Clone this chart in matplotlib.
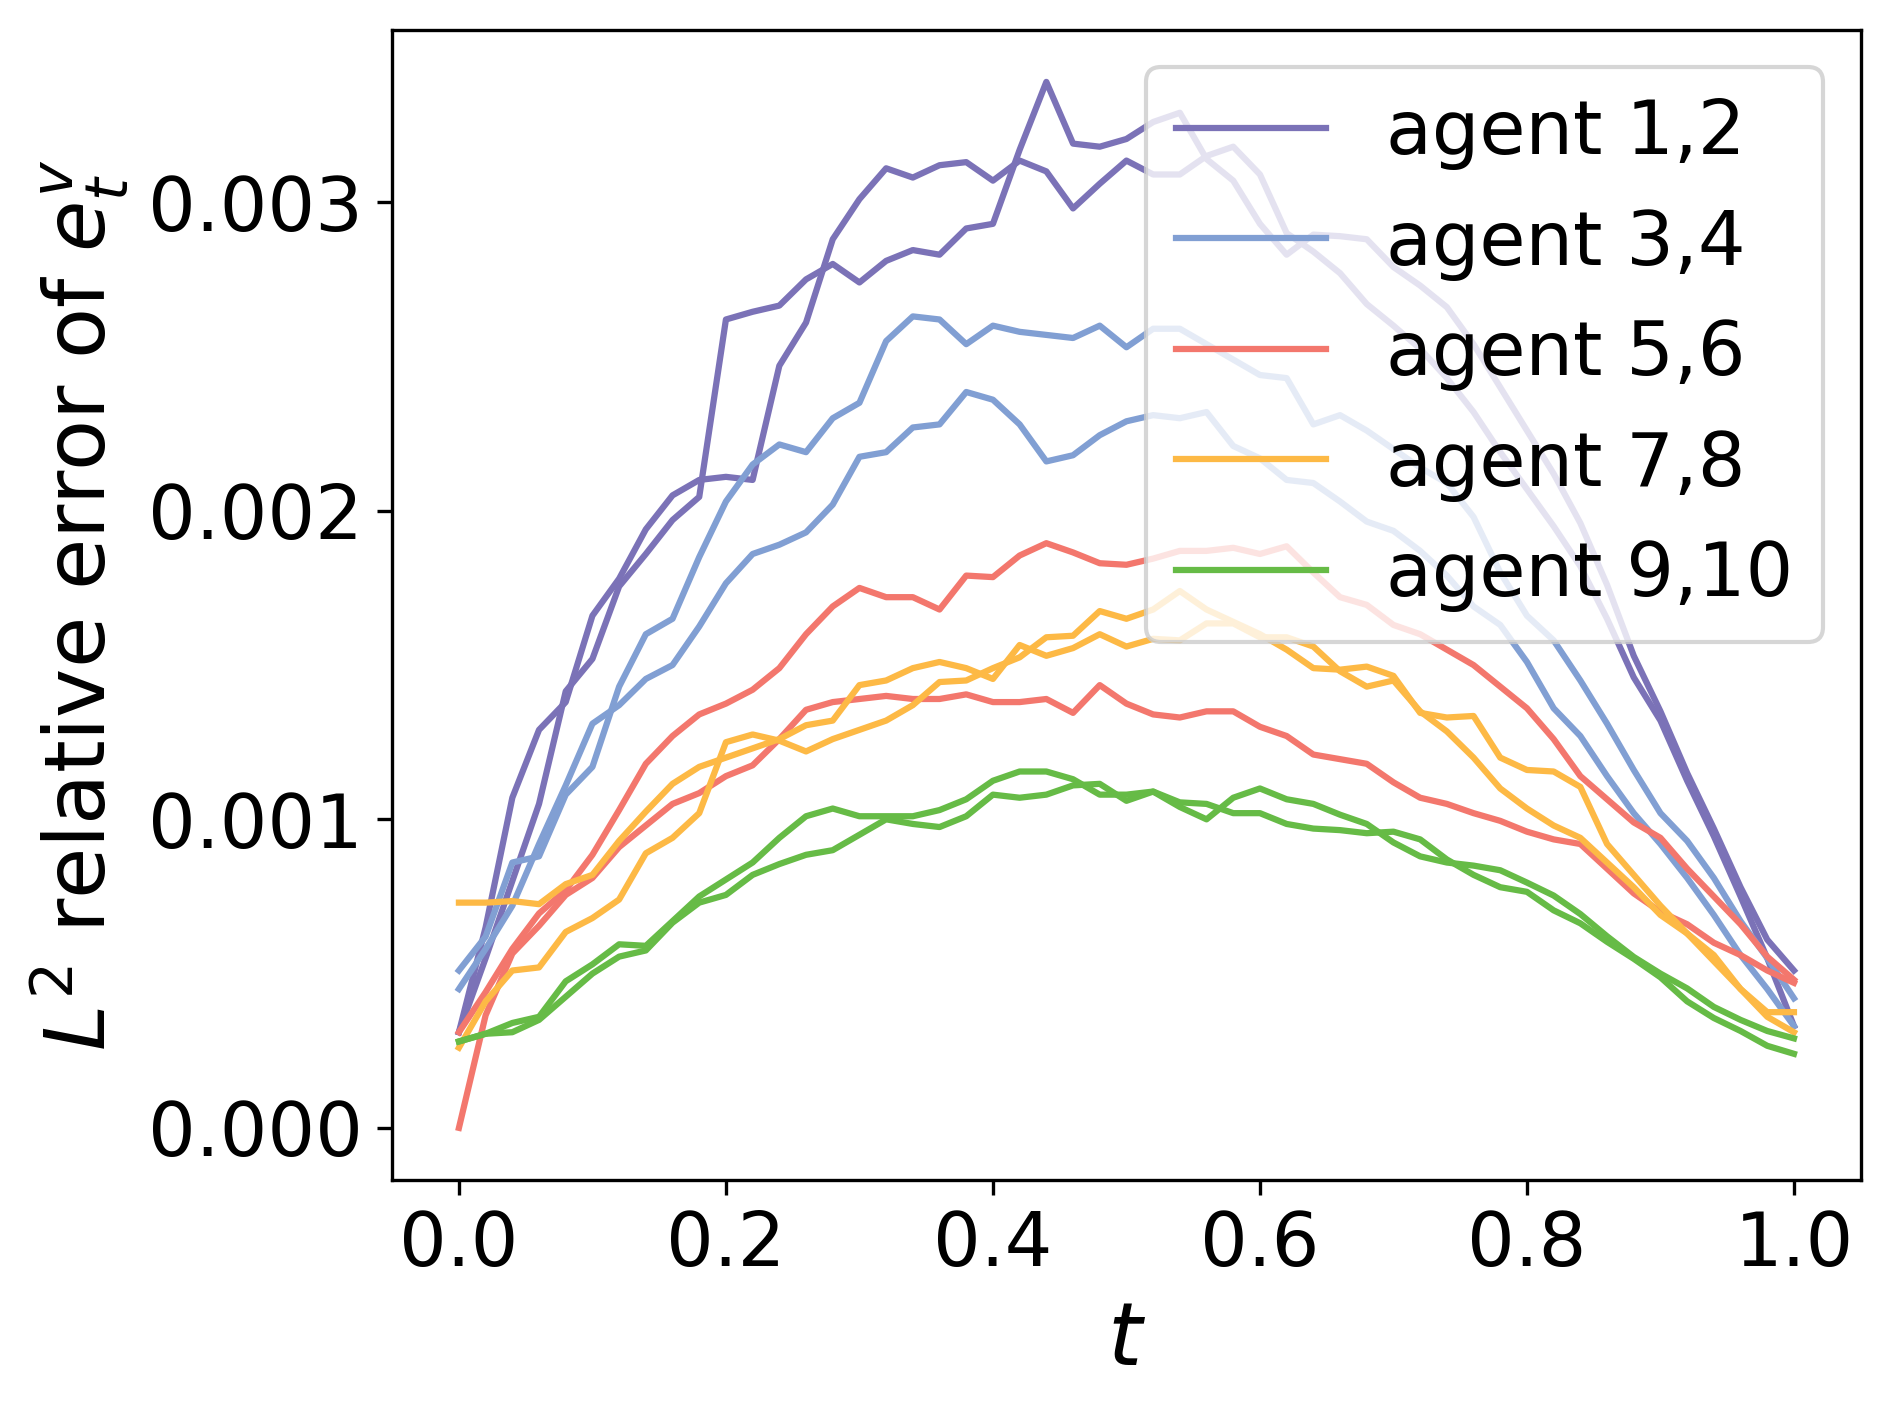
import numpy as np
import matplotlib
matplotlib.use("Agg")
import matplotlib.pyplot as plt

t = np.linspace(0.0, 1.0, 51)

# values in units of 1e-3
agent1 = [0.31, 0.65, 1.07, 1.29, 1.38, 1.66, 1.78, 1.94, 2.05, 2.10,
          2.11, 2.10, 2.47, 2.61, 2.88, 3.01, 3.11, 3.08, 3.12, 3.13,
          3.07, 3.135, 3.10, 2.98, 3.06, 3.135, 3.09, 3.09, 3.15, 3.18,
          3.09, 2.90, 2.84, 2.77, 2.67, 2.60, 2.525, 2.43, 2.32, 2.19,
          2.07, 1.95, 1.82, 1.65, 1.46, 1.32, 1.125, 0.945, 0.75, 0.55,
          0.33]
agent2 = [0.31, 0.55, 0.80, 1.05, 1.415, 1.52, 1.755, 1.86, 1.97, 2.045,
          2.62, 2.645, 2.665, 2.75, 2.80, 2.74, 2.81, 2.845, 2.83, 2.915,
          2.93, 3.17, 3.39, 3.19, 3.18, 3.205, 3.26, 3.29, 3.14, 3.07,
          2.93, 2.83, 2.895, 2.89, 2.88, 2.79, 2.73, 2.66, 2.54, 2.40,
          2.26, 2.12, 1.96, 1.76, 1.53, 1.35, 1.15, 0.97, 0.78, 0.61,
          0.51]
agent3 = [0.51, 0.62, 0.86, 0.88, 1.08, 1.17, 1.43, 1.60, 1.65, 1.85,
          2.03, 2.15, 2.215, 2.19, 2.30, 2.35, 2.55, 2.63, 2.62, 2.54,
          2.60, 2.58, 2.57, 2.56, 2.60, 2.53, 2.59, 2.59, 2.54, 2.49,
          2.44, 2.43, 2.28, 2.31, 2.26, 2.20, 2.14, 2.09, 1.98, 1.80,
          1.66, 1.58, 1.45, 1.31, 1.16, 1.02, 0.93, 0.81, 0.67, 0.55,
          0.42]
agent4 = [0.45, 0.58, 0.72, 0.92, 1.11, 1.31, 1.37, 1.455, 1.50, 1.625,
          1.765, 1.86, 1.89, 1.93, 2.02, 2.175, 2.19, 2.27, 2.28, 2.385,
          2.36, 2.28, 2.16, 2.18, 2.245, 2.29, 2.31, 2.30, 2.32, 2.21,
          2.17, 2.10, 2.09, 2.03, 1.965, 1.935, 1.87, 1.79, 1.69, 1.63,
          1.51, 1.36, 1.27, 1.14, 1.02, 0.92, 0.81, 0.69, 0.56, 0.45,
          0.33]
agent5 = [0.31, 0.44, 0.58, 0.695, 0.77, 0.885, 1.03, 1.18, 1.27, 1.34,
          1.375, 1.42, 1.49, 1.60, 1.69, 1.75, 1.72, 1.72, 1.68, 1.79,
          1.785, 1.855, 1.895, 1.865, 1.83, 1.825, 1.845, 1.87, 1.87, 1.88,
          1.86, 1.885, 1.80, 1.72, 1.695, 1.63, 1.60, 1.55, 1.50, 1.43,
          1.36, 1.26, 1.14, 1.065, 0.99, 0.94, 0.84, 0.75, 0.66, 0.555,
          0.48]
agent6 = [0.0, 0.365, 0.565, 0.655, 0.755, 0.81, 0.91, 0.98, 1.05, 1.085,
          1.14, 1.175, 1.26, 1.355, 1.38, 1.39, 1.40, 1.39, 1.39, 1.405,
          1.38, 1.38, 1.39, 1.345, 1.435, 1.375, 1.34, 1.33, 1.35, 1.35,
          1.30, 1.27, 1.21, 1.195, 1.18, 1.12, 1.07, 1.05, 1.02, 0.995,
          0.96, 0.935, 0.92, 0.84, 0.76, 0.70, 0.66, 0.60, 0.56, 0.51,
          0.47]
agent7 = [0.73, 0.73, 0.735, 0.725, 0.79, 0.82, 0.93, 1.025, 1.115, 1.17,
          1.20, 1.23, 1.26, 1.305, 1.32, 1.435, 1.45, 1.49, 1.51, 1.49,
          1.455, 1.565, 1.53, 1.555, 1.60, 1.56, 1.585, 1.58, 1.635, 1.635,
          1.59, 1.59, 1.56, 1.48, 1.43, 1.45, 1.35, 1.285, 1.20, 1.10,
          1.035, 0.98, 0.94, 0.86, 0.78, 0.69, 0.63, 0.54, 0.45, 0.36,
          0.31]
agent8 = [0.26, 0.41, 0.51, 0.52, 0.635, 0.68, 0.74, 0.89, 0.94, 1.02,
          1.25, 1.275, 1.255, 1.22, 1.26, 1.29, 1.32, 1.37, 1.445, 1.45,
          1.49, 1.525, 1.59, 1.595, 1.675, 1.65, 1.68, 1.74, 1.68, 1.64,
          1.60, 1.55, 1.49, 1.485, 1.495, 1.465, 1.345, 1.33, 1.335, 1.20,
          1.16, 1.155, 1.105, 0.92, 0.82, 0.72, 0.63, 0.56, 0.45, 0.375,
          0.375]
agent9 = [0.28, 0.305, 0.34, 0.36, 0.475, 0.53, 0.595, 0.59, 0.67, 0.75,
          0.805, 0.86, 0.94, 1.01, 1.035, 1.01, 1.01, 1.01, 1.03, 1.065,
          1.125, 1.155, 1.155, 1.13, 1.08, 1.08, 1.09, 1.055, 1.05, 1.02,
          1.02, 0.985, 0.97, 0.965, 0.955, 0.96, 0.935, 0.87, 0.82, 0.78,
          0.765, 0.705, 0.663, 0.603, 0.548, 0.488, 0.41, 0.356, 0.314, 0.266,
          0.24]
agent10 = [0.28, 0.305, 0.31, 0.35, 0.425, 0.50, 0.555, 0.575, 0.665, 0.73,
           0.755, 0.82, 0.855, 0.885, 0.90, 0.95, 1.00, 0.985, 0.975, 1.01,
           1.08, 1.07, 1.08, 1.11, 1.115, 1.06, 1.09, 1.04, 1.00, 1.07,
           1.10, 1.065, 1.05, 1.015, 0.985, 0.925, 0.88, 0.86, 0.85, 0.835,
           0.795, 0.753, 0.693, 0.621, 0.554, 0.50, 0.452, 0.392, 0.35, 0.314,
           0.29]

series = [agent1, agent2, agent3, agent4, agent5, agent6, agent7, agent8, agent9, agent10]
labels = ["agent 1,2", "agent 3,4", "agent 5,6", "agent 7,8", "agent 9,10"]
colors = ["#7b72b7", "#819fd3", "#f3776d", "#fdb945", "#66bb46"]

fig = plt.figure(figsize=(6.3, 4.7), dpi=300)
ax = fig.add_axes([0.2075, 0.163, 0.777, 0.816])

for k, vals in enumerate(series):
    pair = k // 2
    ax.plot(t, np.array(vals) * 1e-3, color=colors[pair], lw=1.5,
            label=labels[pair] if k % 2 == 0 else "_nolegend_")

ax.set_xticks([0.0, 0.2, 0.4, 0.6, 0.8, 1.0])
ax.set_yticks([0.0, 0.001, 0.002, 0.003])
ax.set_yticklabels(["0.000", "0.001", "0.002", "0.003"])
ax.tick_params(labelsize=18)
ax.set_xlabel("$t$", fontsize=21)
ax.set_ylabel("$L^2$ relative error of $e_t^v$", fontsize=20)
ax.legend(loc="upper right", fontsize=18)

fig.savefig("out.png", dpi=300)
